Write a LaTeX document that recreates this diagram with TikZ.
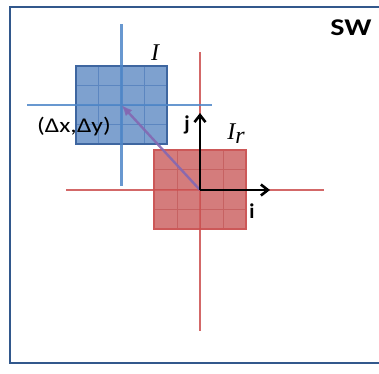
\documentclass[tikz,border=0pt]{standalone}
\usepackage{fontspec}
\setsansfont{Carlito}
\newfontfamily\timesfont{Liberation Serif}
\usepackage{graphicx}
\usepackage{xcolor}
\usetikzlibrary{arrows.meta,positioning,calc}
\definecolor{frameblue}{RGB}{50,88,140}
\definecolor{patchblue}{RGB}{126,161,207}
\definecolor{gridblue}{RGB}{92,134,192}
\definecolor{edgeblue}{RGB}{62,102,160}
\definecolor{axisblue}{RGB}{78,134,200}
\definecolor{patchred}{RGB}{212,124,124}
\definecolor{gridred}{RGB}{198,98,98}
\definecolor{edgered}{RGB}{204,88,88}
\definecolor{axisred}{RGB}{206,72,72}
\definecolor{shiftpurple}{RGB}{132,104,178}
\tikzset{
  axis/.style={line width=2.5pt,opacity=0.85},
  cell/.style={line width=1pt},
  basis/.style={line width=2.8pt,-{Straight Barb[length=7pt,width=11pt,line width=2.6pt]}},
  lbl/.style={font=\sffamily\fontsize{21}{23}\selectfont,inner sep=0pt},
  ilbl/.style={font=\timesfont\itshape\fontsize{24}{26}\selectfont,inner sep=0pt}
}

\begin{document}
\begin{tikzpicture}[x=1pt,y=-1pt]
	\useasboundingbox (0,0) rectangle (379,373);
	\draw[frameblue,line width=2pt] (379,6.5) -- (9.5,6.5) -- (9.5,362.5) -- (379,362.5);
	
	\coordinate (B) at (121.5,105);
	\coordinate (O) at (200,190);
	
	\coordinate (BL) at (27,105);
	\coordinate (BR) at (212,105);
	\coordinate (BT) at (121.5,24);
	\coordinate (BB) at (121.5,186);
	\coordinate (RL) at (66,190);
	\coordinate (RR) at (324,190);
	\coordinate (RT) at (200,52);
	\coordinate (RB) at (200,331);
	
	\coordinate (EI) at (270,190);
	\coordinate (EJ) at (200,113);
	
	\draw[patchred,axis] (RL) -- (RR);
	\draw[patchred,axis] (RT) -- (RB);
	\fill[patchred] (154,150) rectangle (246,229);
	\foreach \k in {1,2,3} {
		\draw[gridred,cell] ($(154,150)+(\k*23,0)$) -- ++(0,79);
		\draw[gridred,cell] ($(154,150)+(0,\k*19.75)$) -- ++(92,0);
	}
	\draw[edgered,line width=1.3pt] (154,150) rectangle (246,229);
	\draw[axisred,axis,opacity=0.55] (RL) -- (RR);
	\draw[axisred,axis,opacity=0.55] (RT) -- (RB);
	
	\fill[patchblue] (76,66) rectangle (167,144);
	\foreach \k in {1,2,3} {
		\draw[gridblue,cell] ($(76,66)+(\k*22.75,0)$) -- ++(0,78);
		\draw[gridblue,cell] ($(76,66)+(0,\k*19.5)$) -- ++(91,0);
	}
	\draw[edgeblue,line width=1.3pt] (76,66) rectangle (167,144);
	\draw[axisblue,axis] (BL) -- (BR);
	\draw[axisblue,axis] (BT) -- (BB);
	
	\draw[shiftpurple,line width=2.4pt,opacity=0.9,-{Latex[length=11pt,width=9pt]}] (O) -- (B);
	
	\draw[basis] (O) -- (EI);
	\draw[basis] (O) -- (EJ);
	
	\node[lbl,font=\sffamily\bfseries\fontsize{21}{23}\selectfont] (ilab) at (252,211) {i};
	\node[lbl,font=\sffamily\bfseries\fontsize{21}{23}\selectfont] (jlab) at (187,125) {j};
	\node[lbl] (shiftlab) at (74,127) {\scalebox{1.22}[1]{(Δx,Δy)}};
	\node[ilbl] (Ilab) at (155,53) {I};
	\node[ilbl] (Irlab) at (236,134) {I\raisebox{-0.35ex}{r}};
	\node[lbl,font=\sffamily\bfseries\fontsize{24}{26}\selectfont] (swlab) at (351,28) {\scalebox{1.25}[1]{SW}};
\end{tikzpicture}
\end{document}
